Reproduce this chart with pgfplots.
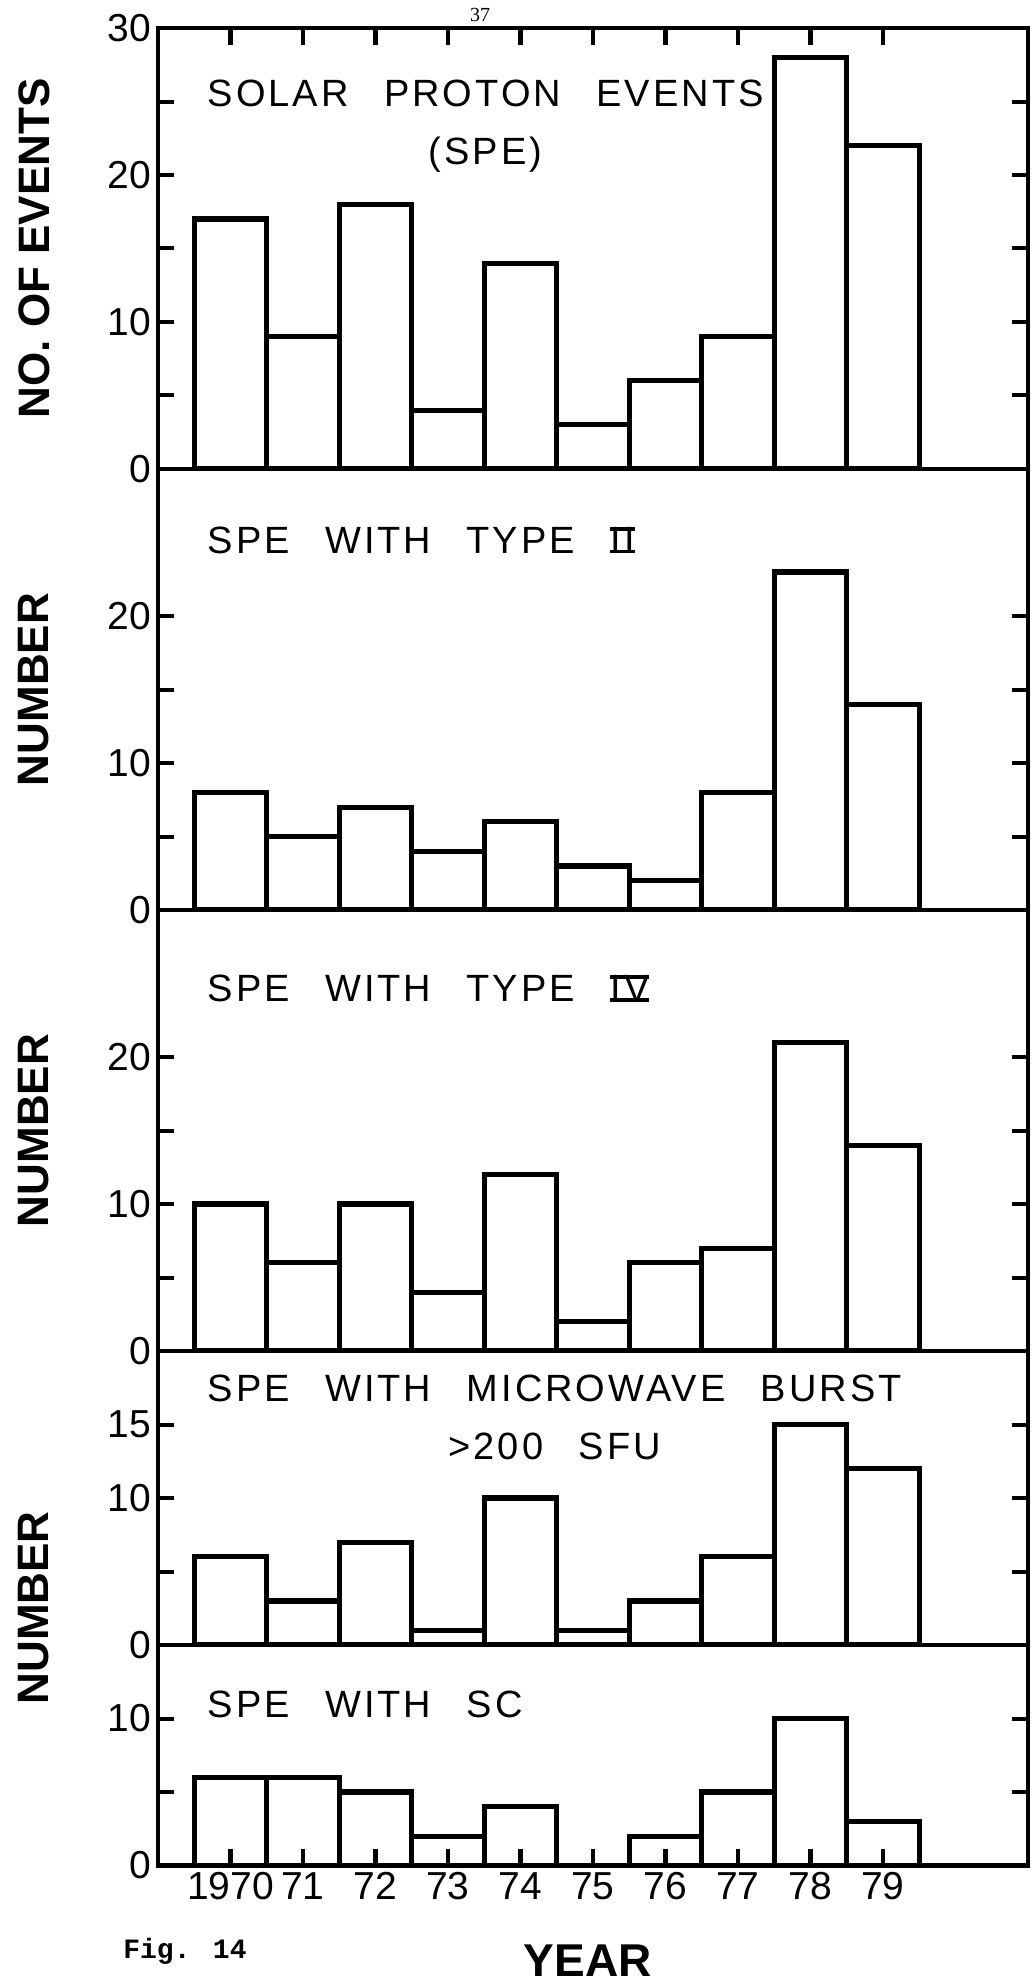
\documentclass[border=0pt]{standalone}
\usepackage{pgfplots}
\pgfplotsset{compat=1.18}
\usepackage{fontspec}
\setmainfont{Liberation Sans}
\newfontfamily\lett{Liberation Sans}[LetterSpace=8,WordSpace=2.6]
\newfontfamily\figfont{Liberation Mono}
\newfontfamily\pagefont{Liberation Serif}

\newcommand{\rom}[1]{{\setbox0\hbox{#1}\rlap{\rule[\dimexpr\ht0-1.8pt\relax]{\wd0}{1.8pt}}\rlap{\rule{\wd0}{1.8pt}}\box0}}

\tikzset{
  ttl/.style={anchor=north west, inner sep=0pt, align=center,
      font=\lett\fontsize{19}{29}\selectfont},
}
\pgfplotsset{
  panel/.style={
    scale only axis, width=435pt,
    xmin=1969, xmax=1981, ymin=0,
    axis line style={line width=2.4pt},
    major tick length=8pt,
    ytick pos=both, yticklabel pos=left,
    tick align=inside,
    tick style={black, line width=2pt},
    ticklabel style={font=\fontsize{19.5}{20}\selectfont},
    ylabel style={at={(axis description cs:-0.1425,0.5)}, anchor=center,
      font=\bfseries\fontsize{22}{24}\selectfont},
  },
  bars/.style={ybar, bar width=1, bar shift=0pt, fill=white, draw=black, line width=2.6pt},
  tickline/.style={black, line width=2.2pt, mark=none, unbounded coords=jump},
}

\begin{document}
\begin{tikzpicture}
\path[use as bounding box] (-79pt,14pt) rectangle (437.5pt,-979pt);

% Panel 1
\begin{axis}[panel, at={(0pt,0pt)}, anchor=north west, height=220.5pt, ymax=30,
  ytick={0,5,...,30}, yticklabels={0,,10,,20,,30},
  xtick=\empty,
  ylabel={NO. OF EVENTS}]
\addplot[bars] coordinates {(1970,17) (1971,9) (1972,18) (1973,4) (1974,14) (1975,3) (1976,6) (1977,9) (1978,28) (1979,22)};
\addplot[tickline] coordinates {(1970,30) (1970,28.85) (1970,nan) (1971,30) (1971,28.85) (1971,nan) (1972,30) (1972,28.85) (1972,nan) (1973,30) (1973,28.85) (1973,nan) (1974,30) (1974,28.85) (1974,nan) (1975,30) (1975,28.85) (1975,nan) (1976,30) (1976,28.85) (1976,nan) (1977,30) (1977,28.85) (1977,nan) (1978,30) (1978,28.85) (1978,nan) (1979,30) (1979,28.85)};
\node[ttl] at (axis cs:1969.68,26.5) {SOLAR PROTON EVENTS\\(SPE)};
\end{axis}

% Panel 2
\begin{axis}[panel, at={(0pt,-220.5pt)}, anchor=north west, height=220.5pt, ymax=30,
  ytick={0,5,...,20}, yticklabels={0,,10,,20},
  xtick=\empty,
  ylabel={NUMBER}]
\addplot[bars] coordinates {(1970,8) (1971,5) (1972,7) (1973,4) (1974,6) (1975,3) (1976,2) (1977,8) (1978,23) (1979,14)};
\node[ttl] at (axis cs:1969.68,26.1) {SPE WITH TYPE \rom{II}};
\end{axis}

% Panel 3
\begin{axis}[panel, at={(0pt,-441pt)}, anchor=north west, height=220.5pt, ymax=30,
  ytick={0,5,...,20}, yticklabels={0,,10,,20},
  xtick=\empty,
  ylabel={NUMBER}]
\addplot[bars] coordinates {(1970,10) (1971,6) (1972,10) (1973,4) (1974,12) (1975,2) (1976,6) (1977,7) (1978,21) (1979,14)};
\node[ttl] at (axis cs:1969.68,25.6) {SPE WITH TYPE \rom{IV}};
\end{axis}

% Panel 4
\begin{axis}[panel, at={(0pt,-661.5pt)}, anchor=north west, height=147pt, ymax=20,
  ytick={0,5,10,15}, yticklabels={0,,10,15},
  xtick=\empty,
  ylabel={NUMBER},
  ylabel style={at={(axis description cs:-0.1425,0.126)}}]
\addplot[bars] coordinates {(1970,6) (1971,3) (1972,7) (1973,1) (1974,10) (1975,1) (1976,3) (1977,6) (1978,15) (1979,12)};
\node[ttl] at (axis cs:1969.68,18.4) {SPE WITH MICROWAVE BURST\\>200 SFU};
\end{axis}

% Panel 5
\begin{axis}[panel, at={(0pt,-808.5pt)}, anchor=north west, height=110.25pt, ymax=15,
  ytick={0,5,10}, yticklabels={0,,10},
  xtick={1970,...,1979}, xtick pos=left, major x tick style={draw=none},
  xticklabels={1970,71,72,73,74,75,76,77,78,79},
  xlabel={YEAR},
  xlabel style={at={(axis description cs:0.494,-0.431)}, anchor=center,
    font=\bfseries\fontsize{23}{25}\selectfont}]
\addplot[bars] coordinates {(1970,6) (1971,6) (1972,5) (1973,2) (1974,4) (1975,0) (1976,2) (1977,5) (1978,10) (1979,3)};
\addplot[tickline] coordinates {(1970,0) (1970,1.15) (1970,nan) (1971,0) (1971,1.15) (1971,nan) (1972,0) (1972,1.15) (1972,nan) (1973,0) (1973,1.15) (1973,nan) (1974,0) (1974,1.15) (1974,nan) (1975,0) (1975,1.15) (1975,nan) (1976,0) (1976,1.15) (1976,nan) (1977,0) (1977,1.15) (1977,nan) (1978,0) (1978,1.15) (1978,nan) (1979,0) (1979,1.15)};
\node[ttl] at (axis cs:1969.68,11.9) {SPE WITH SC};
\end{axis}

\node[anchor=base west, inner sep=0pt, font=\figfont\bfseries\fontsize{14}{16}\selectfont] at (-17.5pt,-965pt) {Fig. 14};
\node[inner sep=0pt, font=\pagefont\fontsize{10}{11}\selectfont] at (161pt,6.5pt) {37};
\end{tikzpicture}
\end{document}
